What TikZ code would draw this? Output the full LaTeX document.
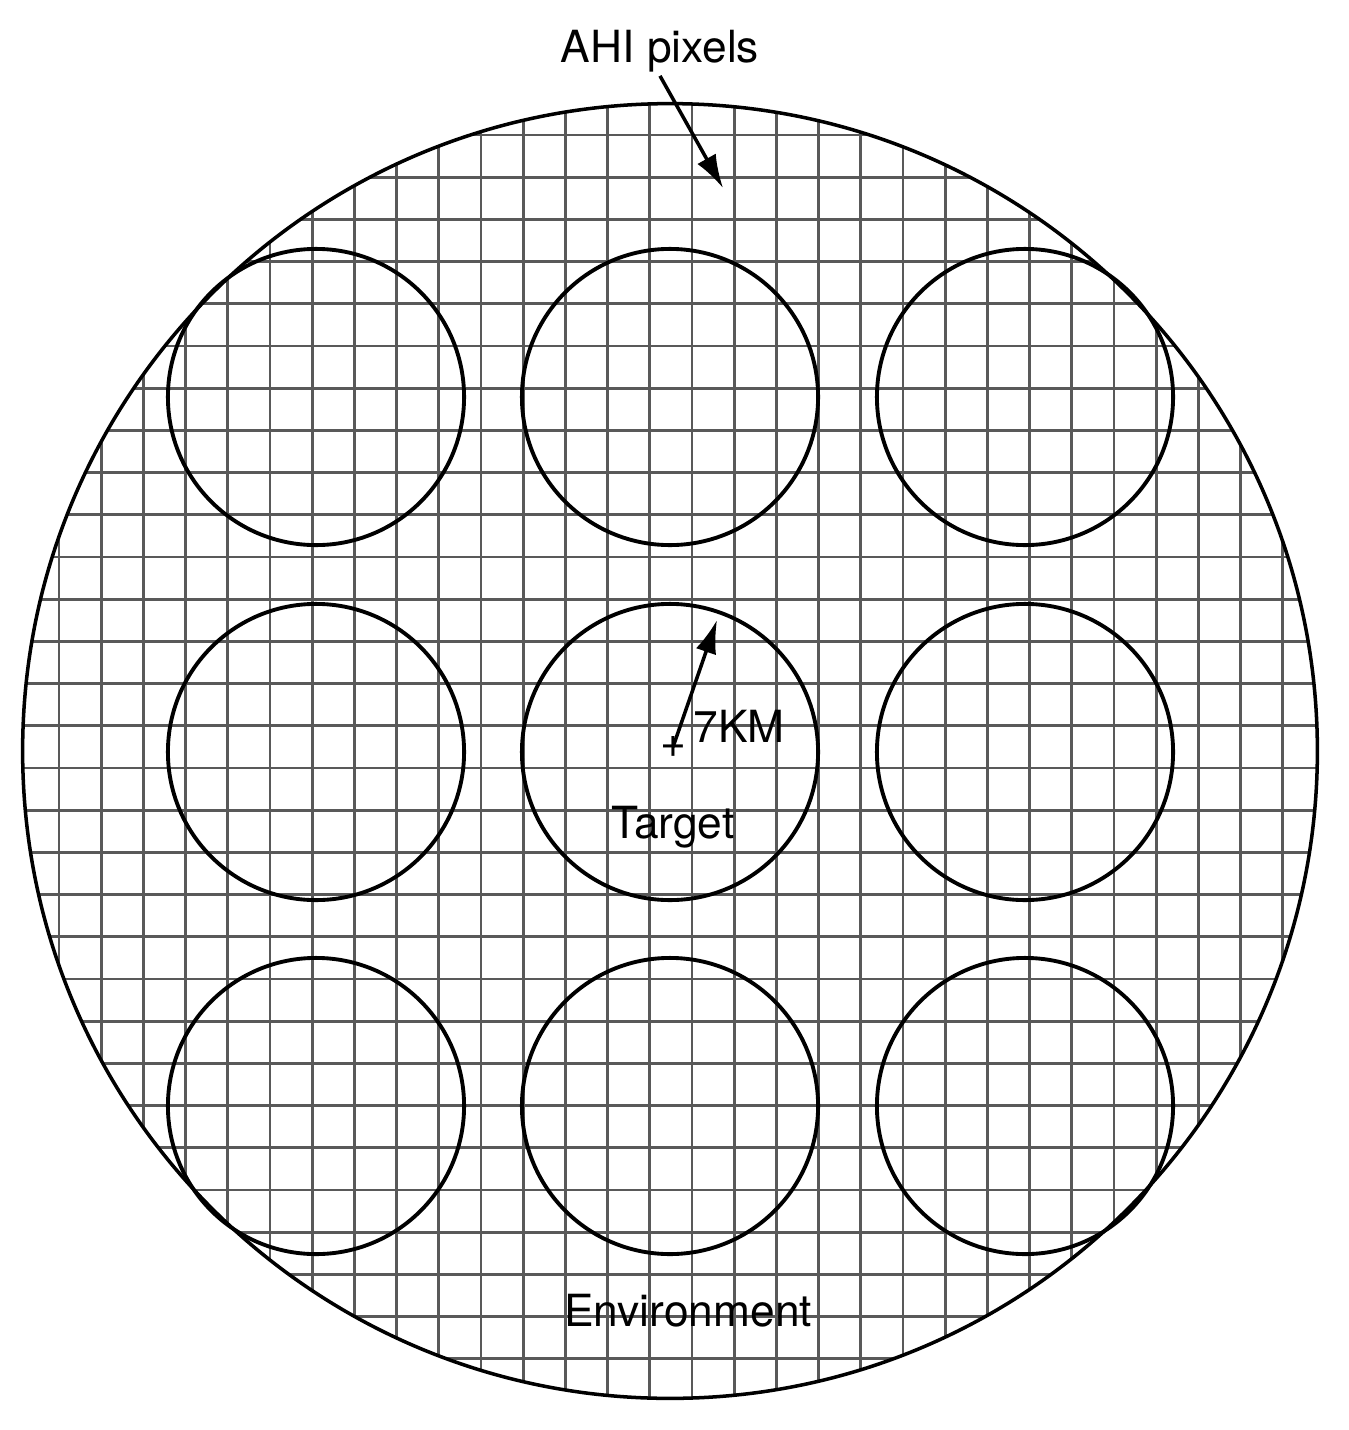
\documentclass[tikz,border=0pt]{standalone}
\usepackage{fontspec}
\setmainfont{TeX Gyre Heros}
\usetikzlibrary{arrows.meta}

\tikzset{
  rejilla/.style={line width=0.75pt, black!65},
  anillo/.style={circle, draw=black, line width=1.1pt, minimum size=2.96cm, inner sep=0pt},
  etiqueta/.style={font=\fontsize{12.6}{15}\selectfont, inner sep=1pt}
}

\begin{document}
\begin{tikzpicture}[>={Latex[length=9.5pt,width=6pt]}, x=0.01cm, y=-0.01cm]

\useasboundingbox (0,0) rectangle (1349,1430);

% Rejilla de pixeles AHI
\begin{scope}
\clip (670,751) circle [radius=6.47cm];
\foreach \k in {-1,...,30}
  \draw[rejilla] ({59+42.2*\k},0) -- ({59+42.2*\k},1430);
\foreach \k in {-1,...,31}
  \draw[rejilla] (0,{135+42.2*\k}) -- (1349,{135+42.2*\k});
\end{scope}

% Circulo grande (entorno)
\draw[line width=1pt] (670,751) circle [radius=6.47cm];

% Circulos pequenos
\foreach \i/\x in {1/316,2/670,3/1025}
  \foreach \j/\y in {1/397,2/752,3/1106}
    \node[anillo] (c\i\j) at (\x,\y) {};

% Etiqueta AHI pixels
\node[etiqueta, anchor=base] (ahi) at (660,62) {AHI pixels};
\coordinate (ahitip) at (723,188);
\draw[->, line width=1pt] (ahi.south) -- (ahitip);

% Centro y radio
\node[etiqueta, inner sep=0pt] (centro) at (673,747) {+};
\coordinate (radtip) at (717,620);
\draw[->, line width=1pt] (centro.center) -- (radtip);
\node[etiqueta, anchor=base] (km) at (739,742) {7KM};

\node[etiqueta, anchor=base] (target) at (673,838) {Target};
\node[etiqueta, anchor=base] (env) at (688,1326) {Environment};

\end{tikzpicture}
\end{document}
